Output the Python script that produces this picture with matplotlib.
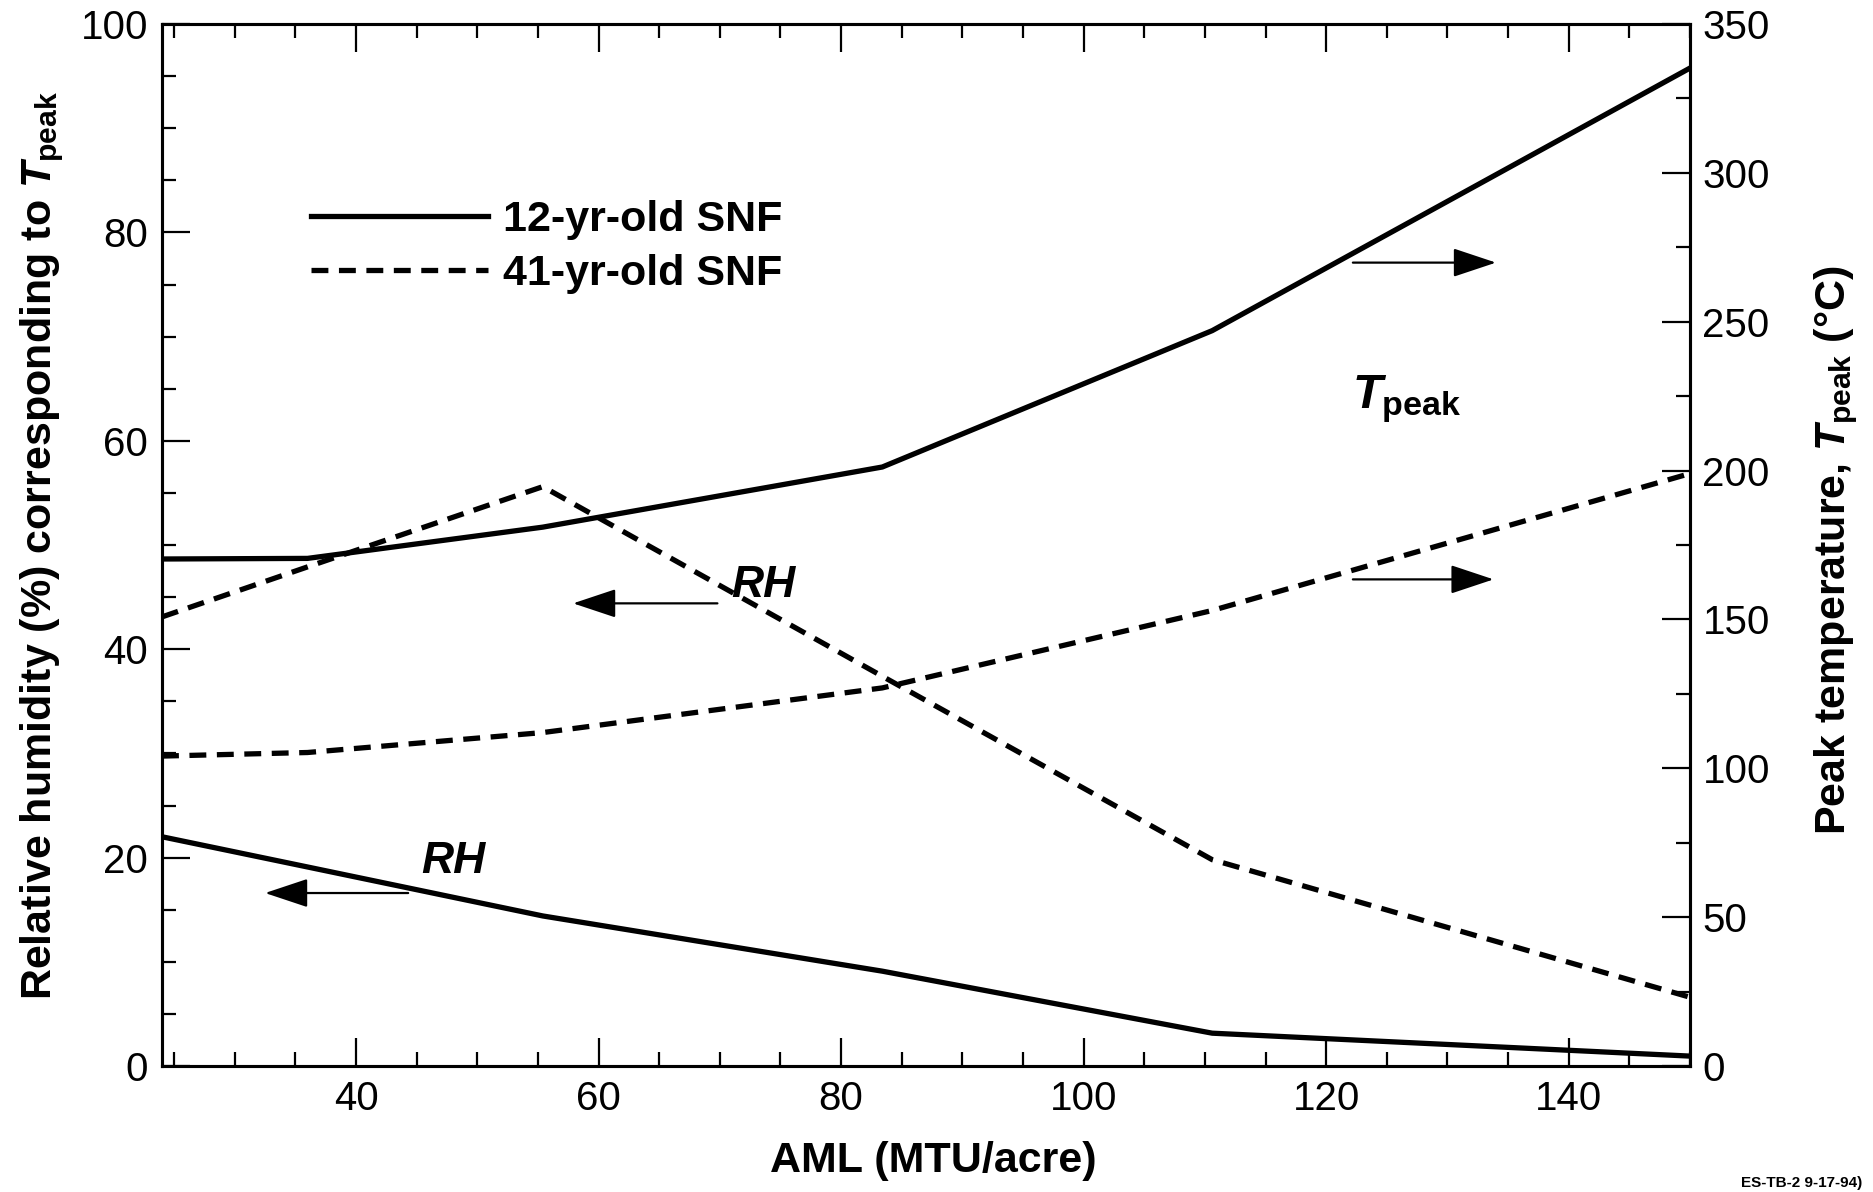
import matplotlib
matplotlib.use("Agg")
import matplotlib.pyplot as plt
from matplotlib.ticker import MultipleLocator
from matplotlib.lines import Line2D

plt.rcParams['font.family'] = ['Liberation Sans', 'DejaVu Sans']
plt.rcParams['mathtext.fontset'] = 'custom'
plt.rcParams['mathtext.it'] = 'Liberation Sans:italic:bold'
plt.rcParams['mathtext.rm'] = 'Liberation Sans:bold'
plt.rcParams['mathtext.bf'] = 'Liberation Sans:bold'

# ---- data ----
aml = [24, 36, 55.4, 83.4, 110.6, 150]
rh_12 = [22.0, 19.1, 14.4, 9.1, 3.15, 0.95]
tpeak_12 = [170.3, 170.5, 181.0, 201.2, 247.0, 335.2]
rh_41 = [43.1, 47.9, 55.6, 37.4, 19.8, 6.6]
tpeak_41 = [104.1, 105.3, 112.0, 127.0, 153.0, 199.0]
series_labels = ["12-yr-old SNF", "41-yr-old SNF"]
x_ticks = [40, 60, 80, 100, 120, 140]
left_ticks = [0, 20, 40, 60, 80, 100]
right_ticks = [0, 50, 100, 150, 200, 250, 300, 350]

fig = plt.figure(figsize=(18.73, 11.92), dpi=100)
ax = fig.add_axes([162/1873, 1-1066/1192, (1690-162)/1873, (1066-24)/1192])
ax2 = ax.twinx()

LW = 3.8
dash = (0, (3.2, 2.0))
ax.plot(aml, rh_12, color='k', lw=LW)
ax.plot(aml, rh_41, color='k', lw=LW, linestyle=dash)
ax2.plot(aml, tpeak_12, color='k', lw=LW)
ax2.plot(aml, tpeak_41, color='k', lw=LW, linestyle=dash)

ax.set_xlim(24, 150)
ax.set_ylim(0, 100)
ax2.set_ylim(0, 350)

ax.xaxis.set_minor_locator(MultipleLocator(5))
ax.yaxis.set_minor_locator(MultipleLocator(5))
ax2.yaxis.set_minor_locator(MultipleLocator(25))
ax.set_xticks(x_ticks)
ax.set_yticks(left_ticks)
ax2.set_yticks(right_ticks)

FS_TICK = 29
ax.tick_params(axis='x', which='both', direction='in', top=True, bottom=True,
               labelsize=FS_TICK, pad=10)
ax.tick_params(axis='y', which='both', direction='in', left=True, right=False,
               labelsize=FS_TICK, pad=10)
ax2.tick_params(axis='y', which='both', direction='in', right=True, left=False,
                labelsize=FS_TICK, pad=9)
for a in (ax, ax2):
    a.tick_params(which='major', length=20, width=1.6)
    a.tick_params(which='minor', length=10, width=1.6)
    for s in a.spines.values():
        s.set_linewidth(2.2)

FS_LAB = 31
ax.set_xlabel("AML (MTU/acre)", fontsize=FS_LAB, fontweight='bold')
ax.xaxis.set_label_coords(0.505, -0.072)
ax.set_ylabel(r"Relative humidity (%) corresponding to $T_{\mathrm{peak}}$",
              fontsize=FS_LAB, fontweight='bold')
ax.yaxis.set_label_coords(-0.063, 0.5)
ax2.set_ylabel(r"Peak temperature, $T_{\mathrm{peak}}$ (°C)",
               fontsize=FS_LAB, fontweight='bold', rotation=90)
ax2.yaxis.set_label_coords(1.08, 0.495)

# legend
handles = [Line2D([], [], color='k', lw=LW),
           Line2D([], [], color='k', lw=LW, linestyle=dash)]
leg = ax.legend(handles, series_labels, loc='upper left',
                bbox_to_anchor=(311/1873, 1-200/1192), bbox_transform=fig.transFigure,
                frameon=False, borderpad=0, borderaxespad=0,
                handlelength=4.1, handletextpad=0.35, labelspacing=0.32,
                prop={'family': 'Liberation Sans', 'weight': 'bold', 'size': 31})

# annotations
arrow = dict(arrowstyle='-|>,head_length=1.8,head_width=0.6', lw=1.6, color='k',
             mutation_scale=15, shrinkA=0, shrinkB=0)
ax.annotate('', xy=(32.5, 16.6), xytext=(44.3, 16.6), arrowprops=arrow)
ax.annotate('', xy=(57.9, 44.4), xytext=(69.8, 44.4), arrowprops=arrow)
ax.annotate('', xy=(134.0, 77.1), xytext=(122.2, 77.1), arrowprops=arrow)
ax.annotate('', xy=(133.8, 46.7), xytext=(122.2, 46.7), arrowprops=arrow)

ax.text(48.0, 19.6, "RH", fontsize=32, fontweight='bold', fontstyle='italic',
        ha='center', va='center')
ax.text(73.6, 46.1, "RH", fontsize=32, fontweight='bold', fontstyle='italic',
        ha='center', va='center')
ax.text(126.6, 64.0, r"$T_{\mathrm{peak}}$", fontsize=35, ha='center', va='center')

fig.text(1862/1873, 2/1192, "ES-TB-2 9-17-94)", fontsize=11, fontweight='bold',
         ha='right', va='bottom')

fig.savefig("out.png", dpi=100)
